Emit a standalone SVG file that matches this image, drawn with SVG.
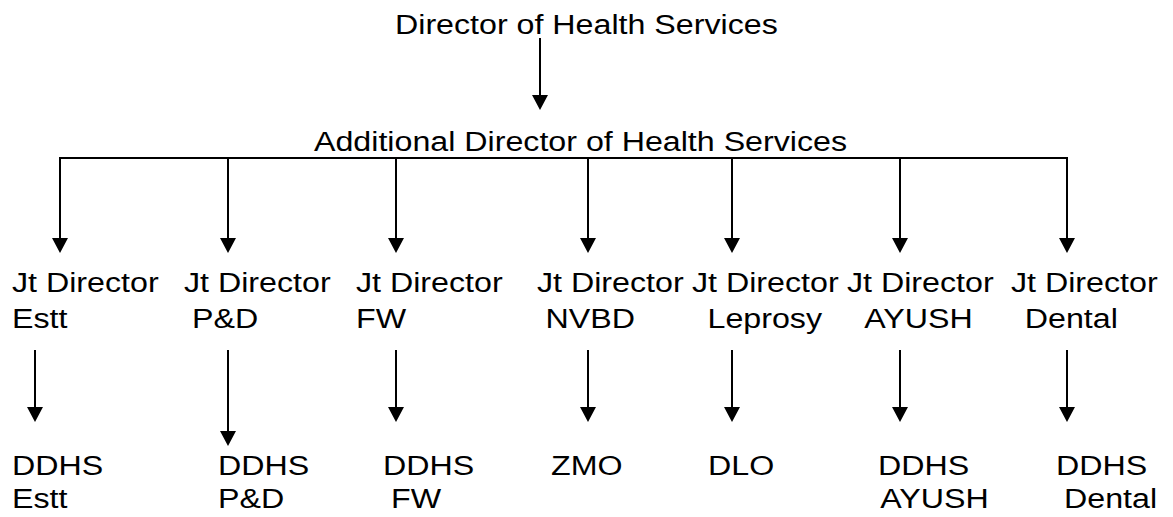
<svg xmlns="http://www.w3.org/2000/svg" width="1173" height="517" viewBox="0 0 1173 517">
<style>
text{font-family:"Liberation Sans",Arial,sans-serif;font-size:28px;fill:#000}
.c{stroke:#000;stroke-width:2;fill:none}
.a{marker-end:url(#ah)}
</style>
<defs>
<marker id="ah" markerUnits="userSpaceOnUse" markerWidth="16" markerHeight="16" refX="7" refY="8" orient="auto" viewBox="0 0 16 16">
<path d="M0,0 L15,8 L0,16 z" fill="#000"/>
</marker>
</defs>
<rect width="1173" height="517" fill="#fff"/>
<g id="connectors">
<line class="c a" x1="540" y1="38" x2="540" y2="102"/>
<line class="c" x1="59" y1="158" x2="1068" y2="158"/>
<line class="c a" x1="60" y1="158" x2="60" y2="245"/>
<line class="c a" x1="228" y1="158" x2="228" y2="245"/>
<line class="c a" x1="396" y1="158" x2="396" y2="245"/>
<line class="c a" x1="588" y1="158" x2="588" y2="245"/>
<line class="c a" x1="732" y1="158" x2="732" y2="245"/>
<line class="c a" x1="900" y1="158" x2="900" y2="245"/>
<line class="c a" x1="1067" y1="158" x2="1067" y2="245"/>
<line class="c a" x1="35" y1="350" x2="35" y2="414"/>
<line class="c a" x1="228" y1="350" x2="228" y2="438"/>
<line class="c a" x1="396" y1="350" x2="396" y2="414"/>
<line class="c a" x1="588" y1="350" x2="588" y2="414"/>
<line class="c a" x1="732" y1="350" x2="732" y2="414"/>
<line class="c a" x1="900" y1="350" x2="900" y2="414"/>
<line class="c a" x1="1067" y1="350" x2="1067" y2="414"/>
</g>
<g id="dhs"><text transform="translate(395,34) scale(1.15 1)">Director of Health Services</text></g>
<g id="adhs"><text transform="translate(314,151) scale(1.15 1)">Additional Director of Health Services</text></g>
<g id="jd-estt"><text transform="translate(12,292) scale(1.15 1)"><tspan x="0">Jt Director</tspan><tspan x="0" dy="36">Estt</tspan></text></g>
<g id="jd-pd"><text transform="translate(184,292) scale(1.15 1)"><tspan x="0">Jt Director</tspan><tspan x="7" dy="36">P&amp;D</tspan></text></g>
<g id="jd-fw"><text transform="translate(356,292) scale(1.15 1)"><tspan x="0">Jt Director</tspan><tspan x="0" dy="36">FW</tspan></text></g>
<g id="jd-nvbd"><text transform="translate(537,292) scale(1.15 1)"><tspan x="0">Jt Director</tspan><tspan x="7.5" dy="36">NVBD</tspan></text></g>
<g id="jd-leprosy"><text transform="translate(692,292) scale(1.15 1)"><tspan x="0">Jt Director</tspan><tspan x="13.5" dy="36">Leprosy</tspan></text></g>
<g id="jd-ayush"><text transform="translate(847,292) scale(1.15 1)"><tspan x="0">Jt Director</tspan><tspan x="15" dy="36">AYUSH</tspan></text></g>
<g id="jd-dental"><text transform="translate(1011,292) scale(1.15 1)"><tspan x="0">Jt Director</tspan><tspan x="12" dy="36">Dental</tspan></text></g>
<g id="ddhs-estt"><text transform="translate(12,475) scale(1.15 1)"><tspan x="0">DDHS</tspan><tspan x="0" dy="33">Estt</tspan></text></g>
<g id="ddhs-pd"><text transform="translate(218,475) scale(1.15 1)"><tspan x="0">DDHS</tspan><tspan x="0" dy="33">P&amp;D</tspan></text></g>
<g id="ddhs-fw"><text transform="translate(383,475) scale(1.15 1)"><tspan x="0">DDHS</tspan><tspan x="7" dy="33">FW</tspan></text></g>
<g id="zmo"><text transform="translate(551,475) scale(1.15 1)">ZMO</text></g>
<g id="dlo"><text transform="translate(708,475) scale(1.15 1)">DLO</text></g>
<g id="ddhs-ayush"><text transform="translate(878,475) scale(1.15 1)"><tspan x="0">DDHS</tspan><tspan x="2" dy="33">AYUSH</tspan></text></g>
<g id="ddhs-dental"><text transform="translate(1056,475) scale(1.15 1)"><tspan x="0">DDHS</tspan><tspan x="7" dy="33">Dental</tspan></text></g>
</svg>
